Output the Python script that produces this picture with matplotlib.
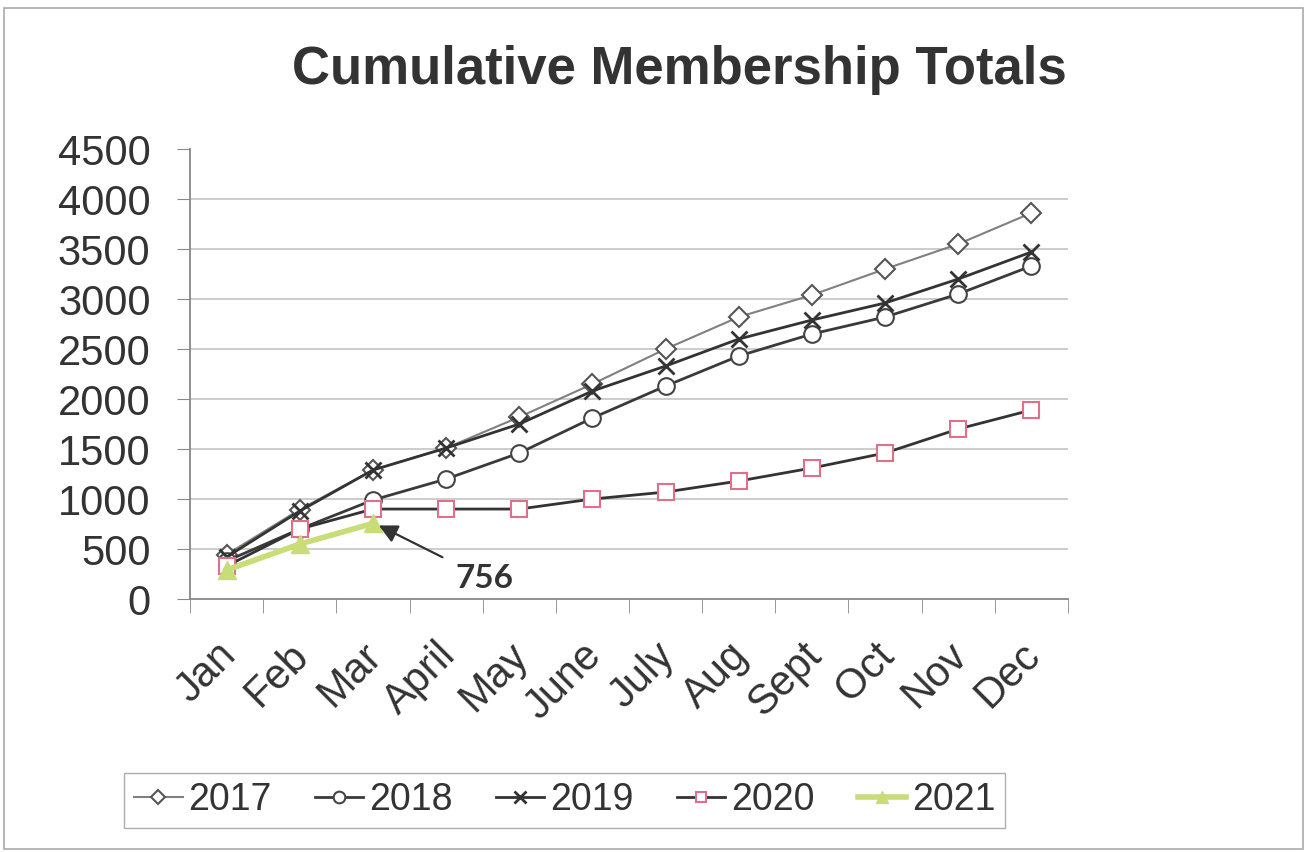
import matplotlib.pyplot as plt
import matplotlib.transforms as mtransforms
from matplotlib.patches import Rectangle

months = ["Jan", "Feb", "Mar", "April", "May", "June", "July", "Aug", "Sept", "Oct", "Nov", "Dec"]
y2017 = [445, 895, 1290, 1510, 1820, 2150, 2500, 2820, 3040, 3300, 3550, 3860]
y2018 = [380, 700, 990, 1200, 1460, 1810, 2130, 2430, 2650, 2820, 3050, 3330]
y2019 = [420, 880, 1290, 1510, 1750, 2080, 2330, 2600, 2790, 2960, 3200, 3470]
y2020 = [330, 700, 900, 900, 900, 1000, 1070, 1180, 1310, 1460, 1700, 1890]
y2021 = [290, 550, 756]
yticks = list(range(0, 4501, 500))

TXT = "#333333"
plt.rcParams["font.family"] = ["Liberation Sans", "DejaVu Sans"]

fig = plt.figure(figsize=(13.07, 8.52), dpi=100)
ax = fig.add_axes([0.1454, 0.2969, 0.6717, 0.5282])
x = list(range(len(months)))

for yv in yticks[1:-1]:
    ax.axhline(yv, color="#c8c8c8", lw=1.3, zorder=0)

ax.plot(x, y2017, color="#808080", lw=1.5, marker="D", ms=10, mfc="white", mec="#555555", mew=1.5, label="2017")
ax.plot(x, y2018, color="#3a3a3a", lw=2, marker="o", ms=12, mfc="white", mec="#444444", mew=1.5, label="2018")
ax.plot(x, y2019, color="#333333", lw=2, marker="x", ms=12, mec="#333333", mew=2, label="2019")
ax.plot(x, y2020, color="#333333", lw=2, marker="s", ms=11, mfc="white", mec="#e0708a", mew=1.5, label="2020")
ax.plot(x[:len(y2021)], y2021, color="#c8dc78", lw=4, marker="^", ms=13, mfc="#c8dc78", mec="#c8dc78", label="2021")

ax.annotate(str(y2021[-1]), xy=(x[2] + 0.08, y2021[-1] - 20), xytext=(3.52, 210),
            fontsize=24, fontweight="bold", family=["Lato", "DejaVu Sans"], color=TXT,
            ha="center", va="center",
            arrowprops=dict(arrowstyle="-|>", color="#333333", lw=1.6, mutation_scale=28,
                            shrinkA=8, shrinkB=0))

ax.set_xlim(-0.5, 11.5)
ax.set_ylim(0, 4500)
ax.set_yticks(yticks)
ax.set_yticklabels([str(v) for v in yticks], fontsize=30, color=TXT)
ax.set_xticks(x)
ax.set_xticklabels(months, fontsize=30, color=TXT, rotation=45, ha="right", rotation_mode="anchor")
ax.tick_params(axis="x", which="major", length=0, pad=26)
ax.set_xticks([i - 0.5 for i in range(len(months) + 1)], minor=True)
ax.tick_params(axis="x", which="minor", length=10, color="#888888", direction="out")
ax.tick_params(axis="y", length=9.5, color="#888888", direction="out", pad=19)

shift = mtransforms.ScaledTranslation(-11 / 100, 0, fig.dpi_scale_trans)
for lab in ax.get_xticklabels():
    lab.set_transform(lab.get_transform() + shift)

for s in ["top", "right"]:
    ax.spines[s].set_visible(False)
for s in ["left", "bottom"]:
    ax.spines[s].set_color("#888888")
    ax.spines[s].set_linewidth(1.3)

fig.text(0.52, 0.918, "Cumulative Membership Totals", fontsize=38, fontweight="bold",
         color=TXT, ha="center", va="center")

leg = fig.legend(loc="center", bbox_to_anchor=(0.432, 0.0605), ncol=5, fontsize=27,
                 frameon=True, fancybox=False, edgecolor="#999999", handlelength=1.3,
                 handletextpad=0.15, columnspacing=1.15, borderpad=0.25, markerscale=0.7)
for t in leg.get_texts():
    t.set_color(TXT)

fig.add_artist(Rectangle((0.003, 0.003), 0.994, 0.988, transform=fig.transFigure,
                         fill=False, edgecolor="#aaaaaa", lw=1.2))

fig.savefig("out.png", dpi=100)
